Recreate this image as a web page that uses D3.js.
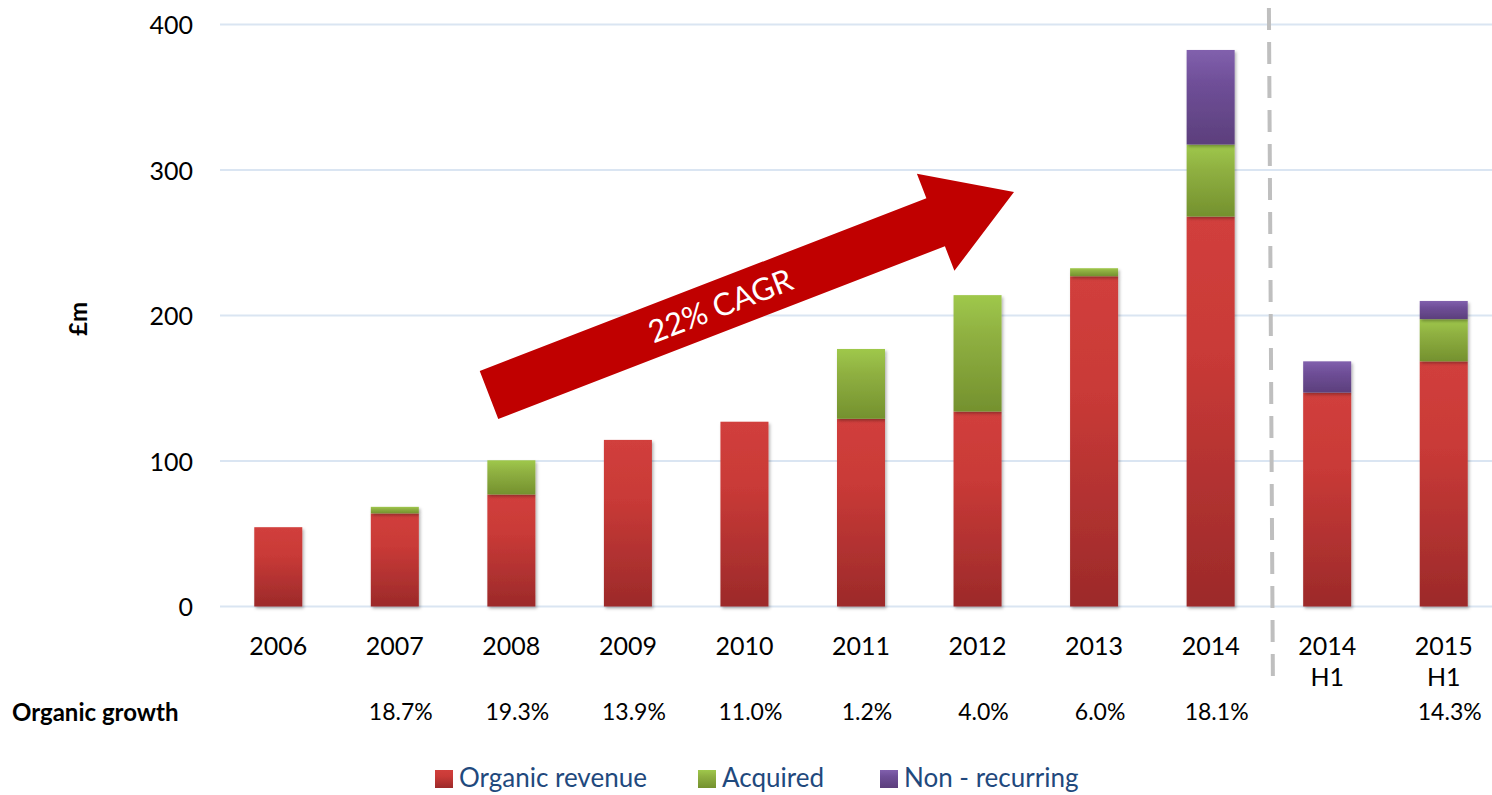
<!DOCTYPE html>
<html>
<head>
<meta charset="utf-8">
<script src="https://cdn.jsdelivr.net/npm/d3@7"></script>
<style>
  body { margin: 0; background: #fff; }
  svg { display: block; font-family: Lato, "Open Sans", sans-serif; }
</style>
</head>
<body>
<div id="chart"></div>
<script>
// chart values
var categories = ["2006", "2007", "2008", "2009", "2010", "2011", "2012", "2013", "2014", "2014\nH1", "2015\nH1"];
var organic    = [54.5, 64, 77, 114.5, 127, 129, 134, 227, 268, 147, 168.5];
var acquired   = [0, 4.5, 23.5, 0, 0, 48, 80, 5.5, 49.5, 0, 29];
var nonRecur   = [0, 0, 0, 0, 0, 0, 0, 0, 65, 21.5, 12.5];
var growth     = ["", "18.7%", "19.3%", "13.9%", "11.0%", "1.2%", "4.0%", "6.0%", "18.1%", "", "14.3%"];
var yTicks     = [0, 100, 200, 300, 400];
var seriesKeys   = ["organic", "acquired", "nonRecur"];
var seriesLabels = ["Organic revenue", "Acquired", "Non - recurring"];

var W = 1492, H = 795;

var svg = d3.select("#chart").append("svg")
    .attr("width", W)
    .attr("height", H);

var defs = svg.append("defs");

var gradColors = {
    organic:  ["#D13F3C", "#C93A37", "#9C2A2A"],
    acquired: ["#9FC84B", "#8FB041", "#74912E"],
    nonRecur: ["#8160AD", "#6F4F98", "#5C3F7C"]
};
seriesKeys.forEach(function (k) {
    var g = defs.append("linearGradient")
        .attr("id", "grad_" + k)
        .attr("x1", 0).attr("y1", 0).attr("x2", 0).attr("y2", 1);
    g.append("stop").attr("offset", "0%").attr("stop-color", gradColors[k][0]);
    g.append("stop").attr("offset", "35%").attr("stop-color", gradColors[k][1]);
    g.append("stop").attr("offset", "100%").attr("stop-color", gradColors[k][2]);
});

var shadow = defs.append("filter").attr("id", "shadow")
    .attr("x", "-20%").attr("y", "-5%").attr("width", "140%").attr("height", "115%");
shadow.append("feDropShadow")
    .attr("dx", 1.5).attr("dy", 2)
    .attr("stdDeviation", 1.5)
    .attr("flood-color", "#000")
    .attr("flood-opacity", 0.3);

// scales
var x = d3.scaleBand()
    .domain(categories)
    .range([220, 1502])
    .paddingInner(0.588)
    .paddingOuter(0.294);

var y = d3.scaleLinear()
    .domain([0, 400])
    .range([606.5, 24.5]);

// gridlines
svg.append("g").selectAll("line")
    .data(yTicks)
    .enter().append("line")
    .attr("x1", 220).attr("x2", W)
    .attr("y1", function (d) { return y(d); })
    .attr("y2", function (d) { return y(d); })
    .attr("stroke", "#DAE5F2")
    .attr("stroke-width", 2);

// y axis labels
var yAxis = d3.axisLeft(y).tickValues(yTicks).tickSize(0).tickPadding(0);
var yg = svg.append("g")
    .attr("transform", "translate(193,0)")
    .call(yAxis);
yg.select(".domain").remove();
yg.selectAll("text")
    .attr("font-family", "Lato, sans-serif")
    .attr("font-size", 25)
    .attr("fill", "#000")
    .attr("dy", "0.36em");

svg.append("text")
    .attr("transform", "translate(87,319) rotate(-90)")
    .attr("text-anchor", "middle")
    .attr("font-size", 24)
    .attr("font-weight", "bold")
    .text("£m");

// stacked bars
var table = categories.map(function (c, i) {
    return { cat: c, organic: organic[i], acquired: acquired[i], nonRecur: nonRecur[i] };
});
var stacked = d3.stack().keys(seriesKeys)(table);

var bars = svg.append("g");
stacked.forEach(function (layer) {
    bars.append("g")
        .attr("fill", "url(#grad_" + layer.key + ")")
        .attr("filter", "url(#shadow)")
        .selectAll("rect")
        .data(layer.filter(function (d) { return d[1] - d[0] > 0; }))
        .enter().append("rect")
        .attr("x", function (d) { return x(d.data.cat); })
        .attr("width", x.bandwidth())
        .attr("y", function (d) { return y(d[1]); })
        .attr("height", function (d) { return y(d[0]) - y(d[1]); });
});

// dashed separator between full years and half years
var sepX = (x(categories[8]) + x.bandwidth() + x(categories[9])) / 2;
svg.append("line")
    .attr("x1", sepX).attr("y1", 8)
    .attr("x2", sepX + 4).attr("y2", 682)
    .attr("stroke", "#BFBFBF")
    .attr("stroke-width", 4)
    .attr("stroke-dasharray", "22 12");

// x labels
var xl = svg.append("g").selectAll("text")
    .data(categories)
    .enter().append("text")
    .attr("x", function (d) { return x(d) + x.bandwidth() / 2; })
    .attr("y", 655)
    .attr("text-anchor", "middle")
    .attr("font-size", 25)
    .attr("fill", "#000");
xl.each(function (d) {
    var parts = d.split("\n");
    var t = d3.select(this);
    parts.forEach(function (p, i) {
        t.append("tspan")
            .attr("x", x(d) + x.bandwidth() / 2)
            .attr("dy", i === 0 ? 0 : 31)
            .text(p);
    });
});

// organic growth row
svg.append("text")
    .attr("x", 12).attr("y", 721)
    .attr("font-size", 24)
    .attr("font-weight", "bold")
    .text("Organic growth");

svg.append("g").selectAll("text")
    .data(growth)
    .enter().append("text")
    .attr("x", function (d, i) { return x(categories[i]) + x.bandwidth() / 2 + 6; })
    .attr("y", 720)
    .attr("text-anchor", "middle")
    .attr("font-size", 23)
    .text(function (d) { return d; });

// CAGR arrow
var tail = [489, 395], tip = [1014, 192];
var dx = tip[0] - tail[0], dy = tip[1] - tail[1];
var len = Math.sqrt(dx * dx + dy * dy);
var ux = dx / len, uy = dy / len, nx = -uy, ny = ux;
var shaftHalf = 25.7, headHalf = 52, headLen = 84;
function pt(t, s) { return [tail[0] + ux * t + nx * s, tail[1] + uy * t + ny * s]; }
var arrowPts = [
    pt(0, -shaftHalf), pt(len - headLen, -shaftHalf), pt(len - headLen, -headHalf),
    pt(len, 0),
    pt(len - headLen, headHalf), pt(len - headLen, shaftHalf), pt(0, shaftHalf)
];
svg.append("polygon")
    .attr("points", arrowPts.map(function (p) { return p.join(","); }).join(" "))
    .attr("fill", "#C00000");

var angle = Math.atan2(dy, dx) * 180 / Math.PI;
var tc = pt(248, 0);
svg.append("text")
    .attr("transform", "translate(" + tc[0] + "," + tc[1] + ") rotate(" + angle + ")")
    .attr("text-anchor", "middle")
    .attr("dy", "0.36em")
    .attr("font-size", 31)
    .attr("fill", "#fff")
    .text("22% CAGR");

// legend
var legendX = [435, 698, 880];
var legend = svg.append("g");
seriesKeys.forEach(function (k, i) {
    legend.append("rect")
        .attr("x", legendX[i]).attr("y", 770)
        .attr("width", 18).attr("height", 18)
        .attr("fill", "url(#grad_" + k + ")");
    legend.append("text")
        .attr("x", legendX[i] + 24).attr("y", 787)
        .attr("font-size", 26)
        .attr("fill", "#1F497D")
        .text(seriesLabels[i]);
});
</script>
</body>
</html>
